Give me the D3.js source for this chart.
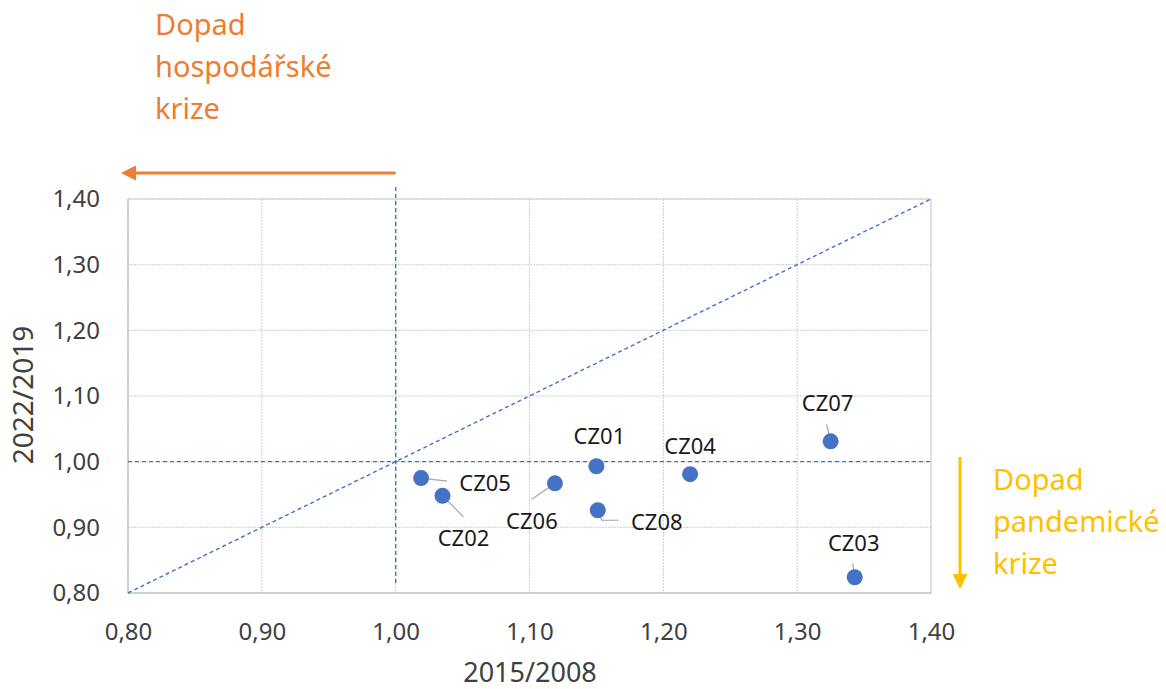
<!DOCTYPE html>
<html><head><meta charset="utf-8">
<script src="https://cdn.jsdelivr.net/npm/d3@7"></script>
<style>
body{margin:0;background:#fff;}
text{font-family:"Noto Sans","Open Sans",sans-serif;}
</style></head>
<body><svg id="c" width="1166" height="689"></svg>
<script>
const regions = ["CZ01","CZ02","CZ03","CZ04","CZ05","CZ06","CZ07","CZ08"];
const ratio2015_2008 = [1.150,1.035,1.343,1.220,1.019,1.119,1.325,1.151];
const ratio2022_2019 = [0.993,0.948,0.824,0.981,0.975,0.967,1.031,0.926];
const xTicks = [0.8,0.9,1.0,1.1,1.2,1.3,1.4];
const yTicks = [0.8,0.9,1.0,1.1,1.2,1.3,1.4];
const xTitle = "2015/2008";
const yTitle = "2022/2019";
const noteEcon = ["Dopad","hospodářské","krize"];
const notePand = ["Dopad","pandemické","krize"];

// label placement (dx, dy of label centre from point, leader line points)
const labelPos = {
  CZ01:{dx:3,dy:-30,lead:null},
  CZ02:{dx:21,dy:42,lead:[21,21]},
  CZ03:{dx:-1,dy:-34,lead:[-2,-14]},
  CZ04:{dx:0,dy:-28,lead:null},
  CZ05:{dx:64,dy:5,lead:[26,3]},
  CZ06:{dx:-23,dy:38,lead:[-23,16]},
  CZ07:{dx:-3,dy:-38,lead:[-4,-17]},
  CZ08:{dx:59,dy:12,lead:[4,10,21,10]}
};

const svg = d3.select("#c");
const L=128,R=931,T=199,B=593;
const x = d3.scaleLinear().domain([0.8,1.4]).range([L,R]);
const y = d3.scaleLinear().domain([0.8,1.4]).range([B,T]);
const fmt = d => d3.format(".2f")(d).replace(".",",");

// grid
const g = svg.append("g");
g.selectAll("line.gx").data(xTicks).join("line")
  .attr("x1",d=>x(d)).attr("x2",d=>x(d)).attr("y1",T).attr("y2",B)
  .attr("stroke","#cfcfcf").attr("stroke-width",1).attr("stroke-dasharray","2,1");
g.selectAll("line.gy").data(yTicks).join("line")
  .attr("y1",d=>y(d)).attr("y2",d=>y(d)).attr("x1",L).attr("x2",R)
  .attr("stroke","#cfcfcf").attr("stroke-width",1).attr("stroke-dasharray","2,1");
svg.append("rect").attr("x",L).attr("y",T).attr("width",R-L).attr("height",B-T)
  .attr("fill","none").attr("stroke","#d0d0d0").attr("stroke-width",1);
svg.append("line").attr("x1",L).attr("x2",R).attr("y1",B).attr("y2",B).attr("stroke","#bfbfbf");
svg.append("line").attr("x1",L).attr("x2",L).attr("y1",T).attr("y2",B).attr("stroke","#bfbfbf");

// axes
const xAxis = d3.axisBottom(x).tickValues(xTicks).tickFormat(fmt).tickSize(0).tickPadding(30);
const ax = svg.append("g").attr("transform",`translate(0,${B})`).call(xAxis);
ax.select(".domain").remove();
ax.selectAll("text").attr("font-size",24).attr("fill","#404040");
const yAxis = d3.axisLeft(y).tickValues(yTicks).tickFormat(fmt).tickSize(0).tickPadding(28);
const ay = svg.append("g").attr("transform",`translate(${L},0)`).call(yAxis);
ay.select(".domain").remove();
ay.selectAll("text").attr("font-size",24).attr("fill","#404040");

svg.append("text").attr("x",530).attr("y",682).attr("text-anchor","middle")
  .attr("font-size",27).attr("fill","#404040").text(xTitle);
svg.append("text").attr("transform",`translate(33,395) rotate(-90)`).attr("text-anchor","middle")
  .attr("font-size",28).attr("fill","#404040").text(yTitle);

// reference lines
const blue="#4472C4";
svg.append("line").attr("x1",x(0.8)).attr("y1",y(0.8)).attr("x2",x(1.4)).attr("y2",y(1.4))
  .attr("stroke",blue).attr("stroke-width",1.4).attr("stroke-dasharray","4,3");
svg.append("line").attr("x1",L).attr("x2",R).attr("y1",y(1.0)).attr("y2",y(1.0))
  .attr("stroke",blue).attr("stroke-width",1.4).attr("stroke-dasharray","4,3");
svg.append("line").attr("x1",x(1.0)).attr("x2",x(1.0)).attr("y1",187).attr("y2",B-8)
  .attr("stroke",blue).attr("stroke-width",1.4).attr("stroke-dasharray","4,3");

// arrows
const defs = svg.append("defs");
function marker(id,color){
  defs.append("marker").attr("id",id).attr("viewBox","0 0 10 10").attr("refX",8).attr("refY",5)
    .attr("markerWidth",5).attr("markerHeight",5).attr("orient","auto")
    .append("path").attr("d","M0,0L10,5L0,10z").attr("fill",color);
}
const orange="#ED7D31", gold="#FFC000";
marker("ao",orange); marker("ay",gold);
svg.append("line").attr("x1",x(1.0)).attr("x2",124).attr("y1",173).attr("y2",173)
  .attr("stroke",orange).attr("stroke-width",3).attr("marker-end","url(#ao)");
svg.append("line").attr("x1",960).attr("x2",960).attr("y1",457).attr("y2",586)
  .attr("stroke",gold).attr("stroke-width",3).attr("marker-end","url(#ay)");

svg.append("g").selectAll("text").data(noteEcon).join("text")
  .attr("x",155).attr("y",(d,i)=>35+i*42).attr("font-size",29).attr("fill",orange).text(d=>d);
svg.append("g").selectAll("text").data(notePand).join("text")
  .attr("x",993).attr("y",(d,i)=>490+i*42).attr("font-size",29).attr("fill",gold).text(d=>d);

// data
const data = regions.map((r,i)=>({r,xv:ratio2015_2008[i],yv:ratio2022_2019[i]}));
const lead = svg.append("g");
data.forEach(d=>{
  const p=labelPos[d.r]; if(!p.lead) return;
  const px=x(d.xv), py=y(d.yv);
  const pts=[[px,py]];
  for(let k=0;k<p.lead.length;k+=2) pts.push([px+p.lead[k],py+p.lead[k+1]]);
  lead.append("path").attr("d",d3.line()(pts)).attr("fill","none").attr("stroke","#a6a6a6").attr("stroke-width",1.2);
});
svg.append("g").selectAll("circle").data(data).join("circle")
  .attr("cx",d=>x(d.xv)).attr("cy",d=>y(d.yv)).attr("r",8).attr("fill",blue);
svg.append("g").selectAll("text").data(data).join("text")
  .attr("x",d=>x(d.xv)+labelPos[d.r].dx).attr("y",d=>y(d.yv)+labelPos[d.r].dy+8)
  .attr("text-anchor","middle").attr("font-size",22).attr("fill","#1a1a1a").text(d=>d.r);
</script></body></html>
